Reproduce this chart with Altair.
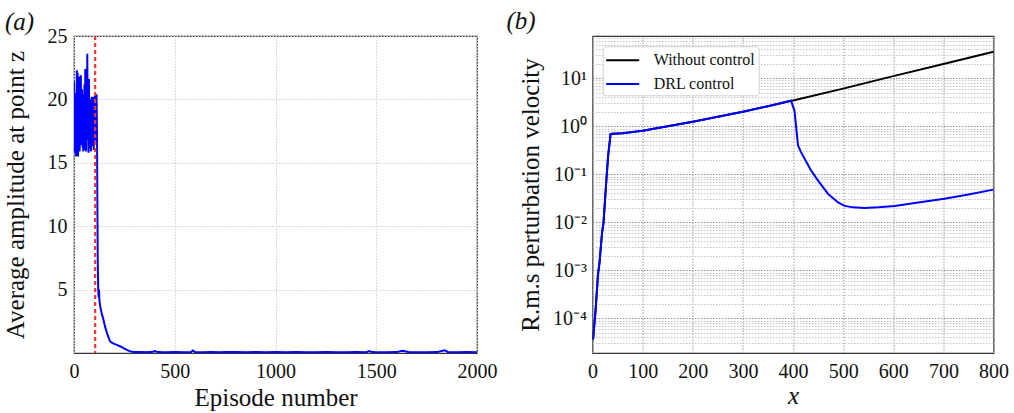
import altair as alt
import pandas as pd

FONT = "Liberation Serif"

# ---------------- (a) training history ----------------
episodes = [
    0, 2, 4, 6, 8, 10, 12, 14, 16, 18, 20, 22, 24, 26, 28, 30, 32, 34, 36, 38,
    40, 42, 44, 46, 48, 50, 52, 54, 56, 58, 60, 62, 64, 66, 68, 70, 72, 74, 76, 78,
    80, 82, 84, 86, 88, 90, 92, 94, 96, 98, 100, 102, 104, 106, 108, 110, 112, 114,
    116, 118, 120, 122, 124, 126, 128, 130, 137, 145, 154, 165, 179, 190, 200, 215,
    228, 240, 250, 265, 278, 290, 300, 330, 360, 390, 400, 410, 430, 460, 500, 540,
    580, 590, 600, 640, 680, 720, 760, 800, 850, 900, 950, 1000, 1050, 1100, 1150,
    1200, 1250, 1300, 1350, 1400, 1450, 1465, 1480, 1500, 1550, 1600, 1630, 1660,
    1700, 1750, 1800, 1840, 1855, 1900, 1950, 2000,
]
amplitude = [
    21.4, 15.8, 20.5, 16.5, 19.0, 15.5, 18.5, 22.3, 16.0, 22.1, 15.5, 19.8, 17.2,
    21.8, 15.9, 20.0, 17.0, 21.9, 16.4, 18.6, 20.8, 16.2, 19.3, 15.9, 20.4, 17.5,
    21.2, 16.0, 22.4, 17.8, 15.9, 20.6, 18.2, 23.6, 16.8, 19.5, 15.8, 21.6, 17.4,
    19.8, 16.1, 20.0, 15.9, 18.4, 20.2, 16.3, 19.1, 17.0, 20.2, 16.0, 18.6, 16.4,
    20.4, 17.1, 19.9, 16.8, 20.4, 17.5, 12.0, 7.0, 5.2, 4.4, 5.0, 4.2, 3.9, 3.7,
    3.15, 2.7, 2.1, 1.5, 0.92, 0.80, 0.72, 0.62, 0.53, 0.45, 0.35, 0.22, 0.13,
    0.09, 0.08, 0.07, 0.06, 0.09, 0.16, 0.10, 0.07, 0.06, 0.08, 0.06, 0.07, 0.20,
    0.08, 0.06, 0.07, 0.05, 0.07, 0.08, 0.06, 0.07, 0.05, 0.08, 0.06, 0.07, 0.05,
    0.06, 0.07, 0.05, 0.06, 0.07, 0.06, 0.15, 0.07, 0.06, 0.05, 0.07, 0.18, 0.08,
    0.06, 0.05, 0.07, 0.22, 0.08, 0.06, 0.07, 0.06,
]
CONTROL_START = 105

# ---------------- (b) r.m.s. perturbation velocity ----------------
x_drl = [1, 6, 11, 14, 19, 22, 27, 31, 36, 40, 60, 80, 100, 150, 200, 250, 300,
         350, 396, 403, 410, 416, 436, 450, 470, 490, 503, 520, 543, 570, 603,
         650, 702, 750, 800]
u_drl = [3.6e-5, 1.4e-4, 8.3e-4, 1.45e-3, 6.0e-3, 1.0e-2, 6.0e-2, 0.23, 0.68,
         0.70, 0.72, 0.76, 0.81, 1.0, 1.25, 1.58, 2.02, 2.62, 3.40, 2.1, 0.40,
         0.29, 0.12, 0.074, 0.039, 0.026, 0.022, 0.0205, 0.020, 0.0205, 0.022,
         0.026, 0.031, 0.038, 0.048]
x_free = x_drl[:19] + [400, 500, 600, 700, 800]
u_free = u_drl[:19] + [3.45, 6.1, 11.1, 19.9, 35.8]

df_a = pd.DataFrame({"episode": episodes, "amp": amplitude})
df_b = pd.concat([
    pd.DataFrame({"x": x_free, "u": u_free, "case": "Without control", "order": 0}),
    pd.DataFrame({"x": x_drl, "u": u_drl, "case": "DRL control", "order": 1}),
])

LABEL_SIZE = 20
TITLE_SIZE = 25


def axis(**kw):
    base = dict(labelFont=FONT, titleFont=FONT, labelFontSize=LABEL_SIZE,
                titleFontSize=TITLE_SIZE, titleFontWeight="normal",
                labelColor="#111111", titleColor="#111111", ticks=False,
                domain=False, gridDash=[1.5, 1.5], labelFlush=False)
    base.update(kw)
    return alt.Axis(**base)


def panel_title(text, dx, dy):
    return alt.TitleParams(text, anchor="start", frame="group", dx=dx, dy=dy,
                           fontStyle="italic", fontWeight="normal", font=FONT,
                           fontSize=TITLE_SIZE, color="#111111", offset=2)


# ---------- panel (a) ----------
x_scale_a = alt.Scale(domain=[0, 2000], nice=False, zero=False)
amp_line = alt.Chart(df_a).mark_line(color="#0000ff", strokeWidth=2, clip=True).encode(
    x=alt.X("episode:Q", scale=x_scale_a,
            axis=axis(title="Episode number", values=[0, 500, 1000, 1500, 2000],
                      format="d", gridColor="#cfcfcf", labelPadding=8, titlePadding=4)),
    y=alt.Y("amp:Q", scale=alt.Scale(domain=[0, 25], nice=False),
            axis=axis(title="Average amplitude at point z", values=[5, 10, 15, 20, 25],
                      format="d", gridColor="#cfcfcf", labelPadding=7, titlePadding=19)),
)
start_rule = alt.Chart(pd.DataFrame({"ep": [CONTROL_START]})).mark_rule(
    color="#ee3a2c", strokeWidth=2.2, strokeDash=[4, 3]
).encode(x=alt.X("ep:Q", scale=x_scale_a))

panel_a = alt.layer(amp_line, start_rule).properties(
    width=403, height=317, title=panel_title("(a)", -69, 11),
)

# ---------- panel (b) ----------
majors = [1e-4, 1e-3, 1e-2, 1e-1, 1e0, 1e1]
minors = [k * 10.0 ** n for n in range(-5, 2) for k in range(2, 10)
          if 1.9e-5 <= k * 10.0 ** n <= 76]
is_major = "abs(log(datum.value)/LN10 - round(log(datum.value)/LN10)) < 1e-6"
sup_expr = (is_major + " ? '10' + ['⁻⁴','⁻³','⁻²','⁻¹','⁰','¹']"
            "[round(log(datum.value)/LN10) + 4] : ''")

panel_b = alt.Chart(df_b).mark_line(strokeWidth=2, clip=True).encode(
    x=alt.X("x:Q", scale=alt.Scale(domain=[0, 800], nice=False),
            axis=axis(title="x", titleFontStyle="italic",
                      values=list(range(0, 801, 100)), format="d",
                      gridColor="#9a9a9a", labelPadding=8, titlePadding=2)),
    y=alt.Y("u:Q", scale=alt.Scale(type="log", domain=[1.9e-5, 76], nice=False),
            axis=axis(title="R.m.s perturbation velocity",
                      values=sorted(majors + minors), labelExpr=sup_expr,
                      gridColor={"condition": {"test": is_major, "value": "#8f8f8f"},
                                 "value": "#c4c4c4"},
                      labelPadding=6, titlePadding=9)),
    color=alt.Color("case:N",
                    scale=alt.Scale(domain=["Without control", "DRL control"],
                                    range=["#000000", "#0000ff"]),
                    legend=alt.Legend(title=None, orient="none", legendX=528.7,
                                      legendY=10.3, symbolType="M-1.65,0H1.65",
                                      symbolSize=400, symbolStrokeWidth=2,
                                      symbolOffset=6, labelOffset=20,
                                      labelFont=FONT, labelFontSize=16,
                                      labelColor="#111111", fillColor="white",
                                      strokeColor="#d0d0d0", cornerRadius=3,
                                      padding=3, rowPadding=4.7)),
    order="order:Q",
    detail="case:N",
).properties(
    width=401, height=317, title=panel_title("(b)", -86, 0),
)

chart = alt.hconcat(panel_a, panel_b, spacing=7.5).properties(
    padding={"left": 2, "top": 8, "right": 0, "bottom": 0}
).configure_view(stroke="#333333", strokeWidth=1.2)

chart.save("out.html", embed_options={"renderer": "svg", "actions": False})
